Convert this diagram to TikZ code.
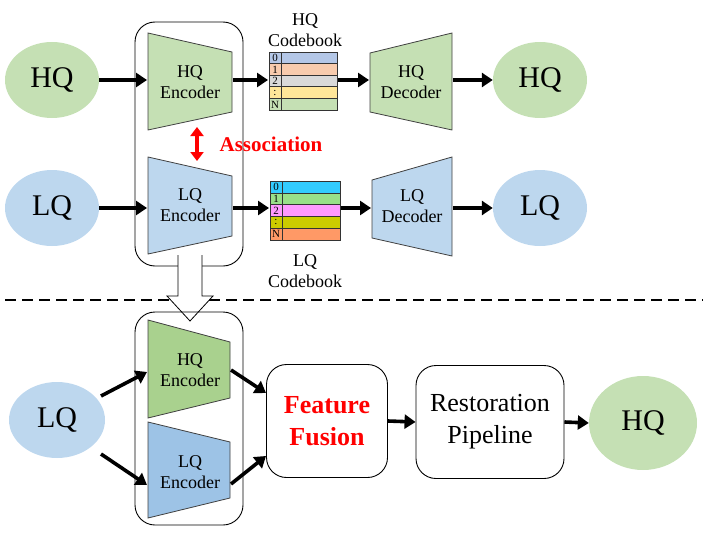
\documentclass[tikz,border=0pt]{standalone}
\usepackage{fontspec}
\setmainfont{Liberation Serif}
\usetikzlibrary{shapes.geometric,arrows.meta}
\definecolor{hqg}{HTML}{C5E0B4}
\definecolor{lqb}{HTML}{BDD7EE}
\definecolor{hqg2}{HTML}{A9D18E}
\definecolor{lqb2}{HTML}{9DC3E6}
\definecolor{trbord}{HTML}{404040}
\begin{document}
\begin{tikzpicture}[x=1pt,y=-1pt,
 arr/.style={line width=3.6pt,-{Triangle[length=11pt,width=14pt]}},
 blob/.style={ellipse,minimum width=94pt,minimum height=76pt,inner sep=0pt,font=\fontsize{30}{32}\selectfont},
 lbl/.style={align=center,font=\fontsize{18}{21}\selectfont,inner sep=0pt},
 trap/.style={draw=trbord,line width=0.8pt},
 rbox/.style={draw,line width=0.9pt,rounded corners=20pt},
 cell/.style={draw=black!80,line width=0.6pt},
 idx/.style={font=\fontsize{11}{11}\selectfont,inner sep=0pt},
 bigbox/.style={draw,line width=0.9pt,rounded corners=20pt,align=center,minimum width=121pt,minimum height=113pt,font=\fontsize{26}{32}\selectfont},
]
\useasboundingbox (0,0) rectangle (708,532);

% ---------- upper part ----------
\draw[rbox] (135,22) rectangle (243,266);

\node[blob,fill=hqg] (hqin) at (52,80) {HQ};
\node[blob,fill=lqb] (lqin) at (52,208) {LQ};

% HQ encoder
\draw[trap,fill=hqg] (148,33) -- (232,52) -- (232,112) -- (148,130) -- cycle;
\node[lbl] (hqenc) at (190,82) {HQ\\Encoder};
\coordinate (hqencin) at (147,80);
\coordinate (hqencout) at (233,80);
% LQ encoder
\draw[trap,fill=lqb] (148,157) -- (232,176) -- (232,236) -- (148,254) -- cycle;
\node[lbl] (lqenc) at (190,205) {LQ\\Encoder};
\coordinate (lqencin) at (147,208);
\coordinate (lqencout) at (233,208);

% association
\coordinate (asA) at (197,127);
\coordinate (asB) at (197,161);
\draw[red,line width=4pt,{Triangle[length=9pt,width=13pt]}-{Triangle[length=9pt,width=13pt]}] (asA) -- (asB);
\node[text=red,font=\bfseries\fontsize{21}{22}\selectfont,inner sep=0pt] (assoc) at (271,144) {Association};

% HQ codebook
\foreach \c [count=\i from 0] in {B4C7E7,F8CBAD,D9D9D9,FFE699,C5E0B4}{
  \definecolor{tmpc}{HTML}{\c}
  \draw[cell,fill=tmpc] (269,52+\i*11.6) rectangle (337,52+\i*11.6+11.6);
  \draw[cell] (281,52+\i*11.6) -- (281,52+\i*11.6+11.6);
}
\foreach \t [count=\i from 0] in {0,1,2,:,N}
  \node[idx] at (275,58+\i*11.6) {\t};
\coordinate (hqcbin) at (268,80);
\coordinate (hqcbout) at (338,80);
\node[lbl] (hqcbl) at (305,30) {HQ\\Codebook};

% LQ codebook
\foreach \c [count=\i from 0] in {33CCFF,99E089,FF99FF,CCCC00,FF9966}{
  \definecolor{tmpc}{HTML}{\c}
  \draw[cell,fill=tmpc] (270,181+\i*11.8) rectangle (340,181+\i*11.8+11.8);
  \draw[cell] (282,181+\i*11.8) -- (282,181+\i*11.8+11.8);
}
\foreach \t [count=\i from 0] in {0,1,2,:,N}
  \node[idx] at (276,187+\i*11.8) {\t};
\coordinate (lqcbin) at (269,208);
\coordinate (lqcbout) at (341,208);
\node[lbl] (lqcbl) at (305,271) {LQ\\Codebook};

% HQ decoder
\draw[trap,fill=hqg] (370,53) -- (452,33) -- (452,130) -- (370,112) -- cycle;
\node[lbl] (hqdec) at (411,82) {HQ\\Decoder};
\coordinate (hqdecin) at (369,80);
\coordinate (hqdecout) at (453,80);
% LQ decoder
\draw[trap,fill=lqb] (372,180) -- (452,157) -- (452,256) -- (372,238) -- cycle;
\node[lbl] (lqdec) at (412,206) {LQ\\Decoder};
\coordinate (lqdecin) at (371,208);
\coordinate (lqdecout) at (453,208);

\node[blob,fill=hqg] (hqout) at (540,80) {HQ};
\node[blob,fill=lqb] (lqout) at (540,208) {LQ};

\draw[arr] (hqin.east) -- (hqencin);
\draw[arr] (hqencout) -- (hqcbin);
\draw[arr] (hqcbout) -- (hqdecin);
\draw[arr] (hqdecout) -- (hqout.west);
\draw[arr] (lqin.east) -- (lqencin);
\draw[arr] (lqencout) -- (lqcbin);
\draw[arr] (lqcbout) -- (lqdecin);
\draw[arr] (lqdecout) -- (lqout.west);

% dashed separator
\coordinate (dashL) at (5,300);
\coordinate (dashR) at (703,300);
\draw[line width=2.5pt,dash pattern=on 11pt off 6pt] (dashL) -- (dashR);

% hollow arrow
\fill[white] (178,255) -- (178,296) -- (167,296) -- (190,321) -- (213,296) -- (202,296) -- (202,255) -- cycle;
\draw[line width=0.8pt,line join=miter] (178,255) -- (178,296) -- (167,296) -- (190,321) -- (213,296) -- (202,296) -- (202,255);

% ---------- lower part ----------
\draw[rbox] (135,312) rectangle (243,525);
\draw[trap,fill=hqg2] (148,320) -- (230,342) -- (230,398) -- (148,418) -- cycle;
\node[lbl] (hqenc2) at (190,370) {HQ\\Encoder};
\draw[trap,fill=lqb2] (148,422) -- (230,442) -- (230,498) -- (148,518) -- cycle;
\node[lbl] (lqenc2) at (190,472) {LQ\\Encoder};
\coordinate (hqenc2in) at (147,372);
\coordinate (lqenc2in) at (147,485);
\coordinate (hqenc2out) at (231,370);
\coordinate (lqenc2out) at (231,484);

\node[blob,fill=lqb,minimum width=96pt] (lqin2) at (57,420) {LQ};

\node[bigbox] (fuse) at (327,421) {\textcolor{red}{\bfseries Feature}\\\textcolor{red}{\bfseries Fusion}};
\node[bigbox,minimum width=148pt] (rest) at (490,422) {Restoration\\Pipeline};
\node[blob,fill=hqg,minimum width=108pt,minimum height=94pt] (hqout2) at (643,423) {HQ};

\coordinate (fusein1) at (266,393);
\coordinate (fusein2) at (266,456);
\coordinate (lqa) at (101,396);
\coordinate (lqb) at (101,454);

\draw[arr] (lqa) -- (hqenc2in);
\draw[arr] (lqb) -- (lqenc2in);
\draw[arr] (hqenc2out) -- (fusein1);
\draw[arr] (lqenc2out) -- (fusein2);
\draw[arr] (fuse.east) -- (rest.west);
\draw[arr] (rest.east) -- (hqout2.west);
\end{tikzpicture}
\end{document}
